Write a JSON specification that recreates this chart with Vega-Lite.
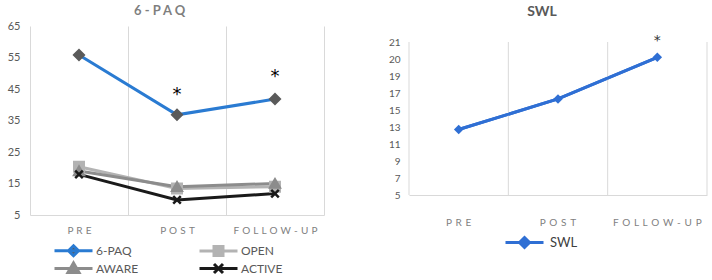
{
  "$schema": "https://vega.github.io/schema/vega-lite/v6.json",
  "background": "white",
  "padding": {"left": 7, "top": 5, "right": 0, "bottom": 0},
  "config": {
    "view": {"stroke": null},
    "font": "Lato",
    "axis": {"labelFont": "Lato", "labelColor": "#595959", "ticks": false, "title": null, "labelOverlap": false}
  },
  "resolve": {"scale": {"color": "independent"}, "legend": {"color": "independent"}},
  "datasets": {
    "paq": [
      {"time": "PRE", "series": "6-PAQ", "value": 55.8},
      {"time": "POST", "series": "6-PAQ", "value": 36.8},
      {"time": "FOLLOW-UP", "series": "6-PAQ", "value": 41.8},
      {"time": "PRE", "series": "OPEN", "value": 20.3},
      {"time": "POST", "series": "OPEN", "value": 13.4},
      {"time": "FOLLOW-UP", "series": "OPEN", "value": 14.0},
      {"time": "PRE", "series": "AWARE", "value": 19.0},
      {"time": "POST", "series": "AWARE", "value": 14.0},
      {"time": "FOLLOW-UP", "series": "AWARE", "value": 15.0},
      {"time": "PRE", "series": "ACTIVE", "value": 17.9},
      {"time": "POST", "series": "ACTIVE", "value": 9.8},
      {"time": "FOLLOW-UP", "series": "ACTIVE", "value": 11.8}
    ],
    "paqStars": [
      {"time": "POST", "value": 44.5, "mark": "*"},
      {"time": "FOLLOW-UP", "value": 50.0, "mark": "*"}
    ],
    "swl": [
      {"time": "PRE", "series": "SWL", "value": 12.7},
      {"time": "POST", "series": "SWL", "value": 16.3},
      {"time": "FOLLOW-UP", "series": "SWL", "value": 20.1}
    ],
    "swlStars": [
      {"time": "FOLLOW-UP", "value": 21.25, "mark": "*"}
    ],
    "swlGrid": [
      {"time": "PRE", "edge": "start"},
      {"time": "POST", "edge": "start"},
      {"time": "FOLLOW-UP", "edge": "start"}
    ],
    "swlGridEnd": [
      {"time": "FOLLOW-UP", "edge": "end"}
    ]
  },
  "spacing": 64,
  "hconcat": [
    {
      "width": 294,
      "height": 189,
      "title": {"text": "6 - P A Q", "font": "Lato", "fontSize": 13, "fontWeight": "bold", "color": "#7f7f7f", "offset": 2, "frame": "bounds", "dx": -6},
      "layer": [
        {
          "data": {"name": "paq"},
          "mark": {"type": "line", "strokeWidth": 3},
          "encoding": {
            "x": {"field": "time", "type": "nominal", "sort": ["PRE", "POST", "FOLLOW-UP"], "bandPosition": 0.5,
              "scale": {"type": "band", "paddingInner": 0, "paddingOuter": 0},
              "axis": {"grid": true, "tickBand": "extent", "gridColor": "#d9d9d9", "domainColor": "#d9d9d9", "labelAngle": 0, "labelFontSize": 10, "labelColor": "#7f7f7f", "labelPadding": 10, "labelOverlap": false, "labelExpr": "join(split(datum.label, ''), ' \u200a')"}},
            "y": {"field": "value", "type": "quantitative",
              "scale": {"domain": [5, 65], "nice": false, "zero": false},
              "axis": {"values": [5, 15, 25, 35, 45, 55, 65], "tickCount": 20, "format": "d", "grid": false, "domain": false, "labelFontSize": 11, "labelPadding": 10, "labelOverlap": false}},
            "color": {"field": "series", "type": "nominal",
              "scale": {"domain": ["6-PAQ", "OPEN", "AWARE", "ACTIVE"], "range": ["#2a7bd2", "#b3b3b3", "#8c8c8c", "#1a1a1a"]},
              "legend": {
                "title": null, "orient": "none", "legendX": 37, "legendY": 218, "columns": 2, "direction": "horizontal",
                "symbolSize": 100, "symbolStrokeWidth": 3, "labelFont": "Lato", "labelFontSize": 12, "labelColor": "#595959",
                "columnPadding": 54, "rowPadding": -8, "labelOffset": 16,
                "encode": {
                  "symbols": {
                    "update": {
                      "shape": {"signal": "datum.value === '6-PAQ' ? 'M-3.8,0H3.8M0,-1L1,0L0,1L-1,0Z' : datum.value === 'OPEN' ? 'M-3.8,0H3.8M-0.9,-0.9H0.9V0.9H-0.9Z' : datum.value === 'AWARE' ? 'M-3.8,0H3.8M0,-1.1L1.1,0.8H-1.1Z' : 'M-3.8,0H3.8M-0.9,-0.9L0.9,0.9M-0.9,0.9L0.9,-0.9'"},
                      "fill": {"signal": "datum.value === '6-PAQ' ? '#5a5a5a' : datum.value === 'OPEN' ? '#b3b3b3' : datum.value === 'AWARE' ? '#8c8c8c' : '#1a1a1a'"}
                    }
                  }
                }
              }}
          }
        },
        {
          "data": {"name": "paq"},
          "mark": {"type": "point", "filled": true, "opacity": 1, "strokeWidth": 2.5, "size": 90},
          "encoding": {
            "x": {"field": "time", "type": "nominal", "sort": ["PRE", "POST", "FOLLOW-UP"], "bandPosition": 0.5},
            "y": {"field": "value", "type": "quantitative"},
            "shape": {"field": "series", "type": "nominal", "legend": null,
              "scale": {"domain": ["6-PAQ", "OPEN", "AWARE", "ACTIVE"], "range": ["diamond", "square", "triangle-up", "M-0.8,-0.8L0.8,0.8M-0.8,0.8L0.8,-0.8"]}},
            "fill": {"field": "series", "type": "nominal", "legend": null,
              "scale": {"domain": ["6-PAQ", "OPEN", "AWARE", "ACTIVE"], "range": ["#5a5a5a", "#b3b3b3", "#8c8c8c", "#1a1a1a"]}},
            "stroke": {"field": "series", "type": "nominal", "legend": null,
              "scale": {"domain": ["6-PAQ", "OPEN", "AWARE", "ACTIVE"], "range": ["#5a5a5a", "#b3b3b3", "#8c8c8c", "#1a1a1a"]}}
          }
        },
        {
          "data": {"name": "paqStars"},
          "mark": {"type": "text", "fontSize": 18, "color": "#000000", "baseline": "middle", "font": "DejaVu Sans", "dy": 4},
          "encoding": {
            "x": {"field": "time", "type": "nominal", "sort": ["PRE", "POST", "FOLLOW-UP"], "bandPosition": 0.5},
            "y": {"field": "value", "type": "quantitative"},
            "text": {"field": "mark"}
          }
        }
      ]
    },
    {
      "width": 298,
      "height": 169,
      "title": {"text": "SWL", "font": "Lato", "fontSize": 14, "fontWeight": "bold", "color": "#595959", "offset": 7, "frame": "bounds", "dx": -6},
      "layer": [
        {
          "data": {"name": "swl"},
          "mark": {"type": "line", "strokeWidth": 3, "color": "#2f6fd4"},
          "encoding": {
            "x": {"field": "time", "type": "nominal", "sort": ["PRE", "POST", "FOLLOW-UP"], "bandPosition": 0.5,
              "scale": {"type": "band", "paddingInner": 0, "paddingOuter": 0},
              "axis": {"grid": false, "bandPosition": 0.5, "domainColor": "#d9d9d9", "labelAngle": 0, "labelAlign": "center", "labelFontSize": 10, "labelColor": "#7f7f7f", "labelPadding": 22, "labelOverlap": false, "labelExpr": "join(split(datum.label, ''), ' \u2009')"}},
            "y": {"field": "value", "type": "quantitative",
              "scale": {"domain": [5, 19, 20, 21], "range": [169, 50, 33, 16], "nice": false, "zero": false},
              "axis": {"values": [5, 7, 9, 11, 13, 15, 17, 19, 20, 21], "tickCount": 30, "format": "d", "grid": false, "domain": false, "labelFontSize": 10, "labelPadding": 9, "labelOverlap": false}},
            "color": {"field": "series", "type": "nominal",
              "scale": {"domain": ["SWL"], "range": ["#2f6fd4"]},
              "legend": {
                "title": null, "orient": "none", "legendX": 109, "legendY": 210,
                "symbolSize": 100, "symbolStrokeWidth": 3, "labelFont": "Lato", "labelFontSize": 13, "labelColor": "#404040", "labelOffset": 19,
                "encode": {
                  "symbols": {
                    "update": {
                      "shape": {"value": "M-3.8,0H3.8M0,-1L1,0L0,1L-1,0Z"},
                      "fill": {"value": "#2f6fd4"}
                    }
                  }
                }
              }}
          }
        },
        {
          "data": {"name": "swlGrid"},
          "mark": {"type": "rule", "color": "#d9d9d9", "strokeWidth": 1},
          "encoding": {
            "x": {"field": "time", "type": "nominal", "sort": ["PRE", "POST", "FOLLOW-UP"], "bandPosition": 0},
            "y": {"datum": 21},
            "y2": {"datum": 5}
          }
        },
        {
          "data": {"name": "swlGridEnd"},
          "mark": {"type": "rule", "color": "#d9d9d9", "strokeWidth": 1},
          "encoding": {
            "x": {"field": "time", "type": "nominal", "sort": ["PRE", "POST", "FOLLOW-UP"], "bandPosition": 1},
            "y": {"datum": 21},
            "y2": {"datum": 5}
          }
        },
        {
          "data": {"name": "swl"},
          "mark": {"type": "line", "strokeWidth": 3, "color": "#2f6fd4"},
          "encoding": {
            "x": {"field": "time", "type": "nominal", "sort": ["PRE", "POST", "FOLLOW-UP"], "bandPosition": 0.5},
            "y": {"field": "value", "type": "quantitative"}
          }
        },
        {
          "data": {"name": "swl"},
          "mark": {"type": "point", "filled": true, "opacity": 1, "shape": "diamond", "size": 90, "color": "#2f6fd4"},
          "encoding": {
            "x": {"field": "time", "type": "nominal", "sort": ["PRE", "POST", "FOLLOW-UP"], "bandPosition": 0.5},
            "y": {"field": "value", "type": "quantitative"}
          }
        },
        {
          "data": {"name": "swlStars"},
          "mark": {"type": "text", "fontSize": 14, "color": "#333333", "baseline": "middle", "font": "DejaVu Sans", "dy": 3},
          "encoding": {
            "x": {"field": "time", "type": "nominal", "sort": ["PRE", "POST", "FOLLOW-UP"], "bandPosition": 0.5},
            "y": {"field": "value", "type": "quantitative"},
            "text": {"field": "mark"}
          }
        }
      ]
    }
  ]
}
